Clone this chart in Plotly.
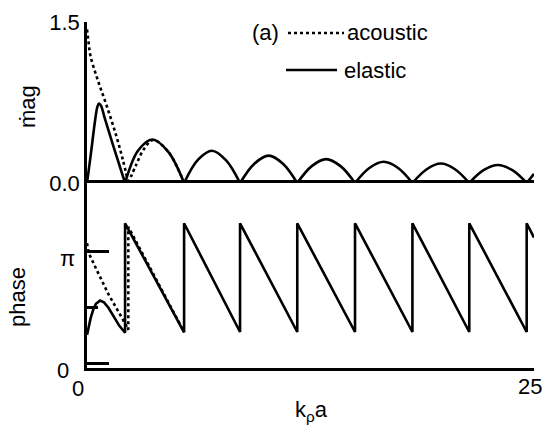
import math
import plotly.graph_objects as go

# ---- magnitude, elastic sphere (spline segments split by None) ----
mag_elastic_x = [0, 0.2, 0.45, 0.58, 0.67, 0.78, 1.0, 1.5, 2.13, None,
                 2.13, 2.85, 3.65, 4.55, 5.43, None]
mag_elastic_y = [0, 0.25, 0.58, 0.71, 0.74, 0.72, 0.6, 0.33, 0.0, None,
                 0.0, 0.30, 0.405, 0.29, 0.0, None]

# ---- magnitude, acoustic (rigid-fluid) sphere ----
mag_acoustic_x = [0, 0.08, 0.2, 0.6, 1.1, 1.6, 2.0, 2.31, None,
                  2.31, 2.75, 3.2, 3.7, 4.55, 5.43, None]
mag_acoustic_y = [1.43, 1.32, 1.18, 0.96, 0.72, 0.46, 0.22, 0.0, None,
                  0.0, 0.17, 0.32, 0.40, 0.29, 0.0, None]

# ---- magnitude lobes common to both curves beyond the second null ----
mag_tail_x = [5.43, 6.2, 6.99, 7.78, 8.56, None,
              8.56, 9.36, 10.16, 10.96, 11.76, None,
              11.76, 12.57, 13.37, 14.18, 14.99, None,
              14.99, 15.79, 16.6, 17.4, 18.2, None,
              18.2, 19.0, 19.79, 20.58, 21.38, None,
              21.38, 22.18, 22.98, 23.79, 24.59, None,
              24.59, 25.0]
mag_tail_y = [0.0, 0.215, 0.30, 0.21, 0.0, None,
              0.0, 0.18, 0.255, 0.18, 0.0, None,
              0.0, 0.157, 0.222, 0.157, 0.0, None,
              0.0, 0.14, 0.198, 0.14, 0.0, None,
              0.0, 0.128, 0.181, 0.128, 0.0, None,
              0.0, 0.119, 0.168, 0.119, 0.0, None,
              0.0, 0.085]

# ---- phase, elastic ----
phase_elastic_x = [0, 0.08, 0.2, 0.35, 0.5, 0.73, 0.95, 1.2, 1.5, 1.8, 2.13,
                   2.13, 5.43]
phase_elastic_y = [0.79, 0.98, 1.25, 1.5, 1.66, 1.75, 1.7, 1.55, 1.3, 1.05, 0.85,
                   3.92, 0.86]

# ---- phase, acoustic ----
phase_acoustic_x = [0, 0.1, 0.6, 1.2, 1.94, 2.2, 2.31,
                    2.31, 3.0, 4.0, 5.0, 5.43]
phase_acoustic_y = [3.36, 3.08, 2.55, 1.93, 1.28, 1.0, 0.93,
                    3.82, 3.17, 2.25, 1.27, 0.87]

# ---- phase sawtooth common to both curves ----
phase_tail_x = [5.43, 8.56, 8.56, 11.76, 11.76, 14.99, 14.99, 18.2, 18.2,
                21.38, 21.38, 24.59, 24.59, 25.0]
phase_tail_y = [3.92, 0.87, 3.92, 0.87, 3.92, 0.87, 3.92, 0.87, 3.92,
                0.87, 3.92, 0.87, 3.92, 3.52]

# axis ticks
x_ticks = [0, 25]
x_tick_text = ["0", "25"]
mag_ticks = [0.0, 1.5]
mag_tick_text = ["0.0", "1.5"]
phase_ticks = [0, math.pi]
phase_tick_text = ["0", "π"]
phase_minor = [math.pi / 2]

W, H = 543, 431
ML, MR, MT, MB = 87, 9, 22, 63
PW, PH = W - ML - MR, H - MT - MB
FONT = "Liberation Sans, Arial, sans-serif"
INK = "#000000"
LW = 2.6


def px(xpix):
    return (xpix - ML) / PW


def py(ypix):
    return (H - MB - ypix) / PH


split = py(183)

fig = go.Figure()

dotted = dict(color=INK, width=LW, dash="dot")
solid = dict(color=INK, width=LW)

fig.add_trace(go.Scatter(x=mag_acoustic_x, y=mag_acoustic_y, mode="lines",
                         line=dict(shape="spline", **dotted), xaxis="x", yaxis="y",
                         connectgaps=False, cliponaxis=False))
fig.add_trace(go.Scatter(x=mag_elastic_x + mag_tail_x, y=mag_elastic_y + mag_tail_y,
                         mode="lines", line=dict(shape="spline", **solid),
                         xaxis="x", yaxis="y", connectgaps=False, cliponaxis=False))
fig.add_trace(go.Scatter(x=phase_acoustic_x, y=phase_acoustic_y, mode="lines",
                         line=dotted, xaxis="x2", yaxis="y2"))
fig.add_trace(go.Scatter(x=phase_elastic_x + phase_tail_x,
                         y=phase_elastic_y + phase_tail_y, mode="lines",
                         line=solid, xaxis="x2", yaxis="y2"))

axis_common = dict(showgrid=False, zeroline=False, linecolor=INK,
                   linewidth=LW, tickcolor=INK, tickwidth=LW,
                   tickfont=dict(family=FONT, size=22, color=INK))

fig.update_layout(
    width=W, height=H,
    margin=dict(l=ML, r=MR, t=MT, b=MB),
    paper_bgcolor="white", plot_bgcolor="white",
    showlegend=False,
    font=dict(family=FONT, size=22, color=INK),
    # the magnitude baseline is supplied by the mirrored top line of the phase axis
    xaxis=dict(domain=[0, 1], range=[0, 25], anchor="y", ticks="",
               showline=False, showticklabels=False, **axis_common),
    yaxis=dict(domain=[split, 1], range=[0, 1.5], anchor="x",
               tickvals=mag_ticks, ticktext=mag_tick_text, showline=True,
               ticks="inside", ticklen=23, **axis_common),
    xaxis2=dict(domain=[0, 1], range=[0, 25], anchor="y2",
                tickvals=x_ticks, showline=True, showticklabels=False,
                ticks="inside", ticklen=24, mirror="ticks", **axis_common),
    yaxis2=dict(domain=[0, split], range=[-0.14, 5.05], anchor="x2",
                tickvals=phase_ticks, showline=True, showticklabels=False,
                ticks="inside", ticklen=22,
                minor=dict(tickvals=phase_minor, ticks="inside", ticklen=11,
                           tickwidth=LW, tickcolor=INK, showgrid=False),
                **axis_common),
)

label_font = dict(family=FONT, size=22, color=INK)

# tick labels of the lower panel, set slightly off their ticks
for val, txt, dx, dy in zip(x_ticks, x_tick_text, [-9, -4], [20, 18]):
    fig.add_annotation(text=txt, x=val, xref="x2", y=py(368 + dy), yref="paper",
                       xshift=dx, showarrow=False, xanchor="center", yanchor="middle",
                       font=label_font)
for val, txt, xc, dy in zip(phase_ticks, phase_tick_text, [63, 67], [7, 7]):
    fig.add_annotation(text=txt, x=px(xc), xref="paper", y=val, yref="y2",
                       yshift=-dy, showarrow=False, xanchor="center", yanchor="middle",
                       font=label_font)

# axis titles
fig.add_annotation(text="ṁag", x=px(27), y=py(107), xref="paper", yref="paper",
                   textangle=-90, showarrow=False, xanchor="center", yanchor="middle",
                   font=label_font)
fig.add_annotation(text="phase", x=px(17), y=py(297), xref="paper", yref="paper",
                   textangle=-90, showarrow=False, xanchor="center", yanchor="middle",
                   font=label_font)
fig.add_annotation(text="k<sub>ρ</sub>a", x=px(311), y=py(411), xref="paper", yref="paper",
                   showarrow=False, xanchor="center", yanchor="middle",
                   font=label_font)

# key
fig.add_annotation(text="(a)", x=px(250), y=py(33), xref="paper", yref="paper",
                   showarrow=False, xanchor="left", yanchor="middle", font=label_font)
fig.add_shape(type="line", xref="paper", yref="paper",
              x0=px(288), x1=px(344), y0=py(33), y1=py(33), line=dotted)
fig.add_annotation(text="acoustic", x=px(345), y=py(33), xref="paper", yref="paper",
                   showarrow=False, xanchor="left", yanchor="middle", font=label_font)
fig.add_shape(type="line", xref="paper", yref="paper",
              x0=px(286), x1=px(337), y0=py(70), y1=py(70), line=solid)
fig.add_annotation(text="elastic", x=px(342), y=py(70), xref="paper", yref="paper",
                   showarrow=False, xanchor="left", yanchor="middle", font=label_font)

fig.write_html("out.html")
